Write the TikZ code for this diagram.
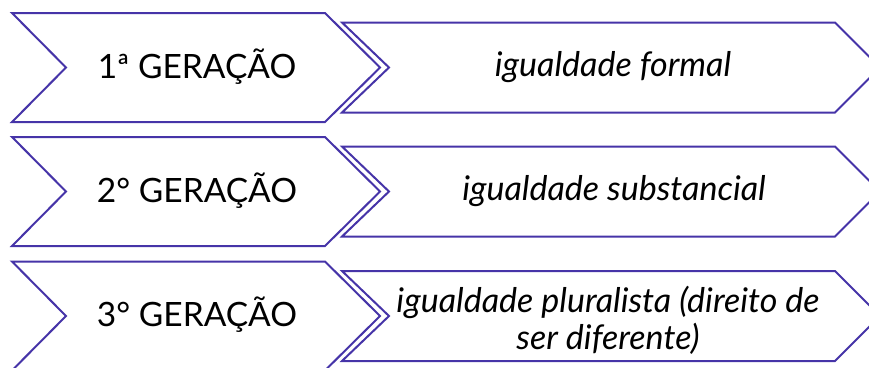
\documentclass[tikz,border=0pt]{standalone}
\usepackage{fontspec}
\setmainfont{Lato}
\definecolor{chev}{RGB}{70,52,168}
\begin{document}
\begin{tikzpicture}[x=1pt,y=-1pt,
  chevbox/.style={draw=chev, line width=2pt, fill=white, line join=miter},
  gen/.style={font=\fontsize{33.5}{40}\selectfont, text=black, inner sep=0pt},
  desc/.style={font=\itshape\fontsize{34}{37}\selectfont, text=black, align=center, inner sep=0pt}]
\useasboundingbox (0,0) rectangle (869,367);
\clip (0,0) rectangle (869,367);
\foreach \c in {67.5,191.5,316}{
  \draw[chevbox] (342,\c-45) -- (835,\c-45) -- (880,\c) -- (835,\c+45) -- (342,\c+45) -- (389,\c) -- cycle;
  \draw[chevbox] (12,\c-54.5) -- (325,\c-54.5) -- (380,\c) -- (325,\c+54.5) -- (12,\c+54.5) -- (66,\c) -- cycle;
}
\node[gen] (g1) at (197,66.5) {1ª GERAÇÃO};
\node[gen] (g2) at (197,190.5) {2° GERAÇÃO};
\node[gen] (g3) at (197,315) {3° GERAÇÃO};
\node[desc] (d1) at (613,67.5) {igualdade formal};
\node[desc] (d2) at (614,191.5) {igualdade substancial};
\node[desc] (d3) at (608,320) {igualdade pluralista (direito de\\ ser diferente)};
\end{tikzpicture}
\end{document}
